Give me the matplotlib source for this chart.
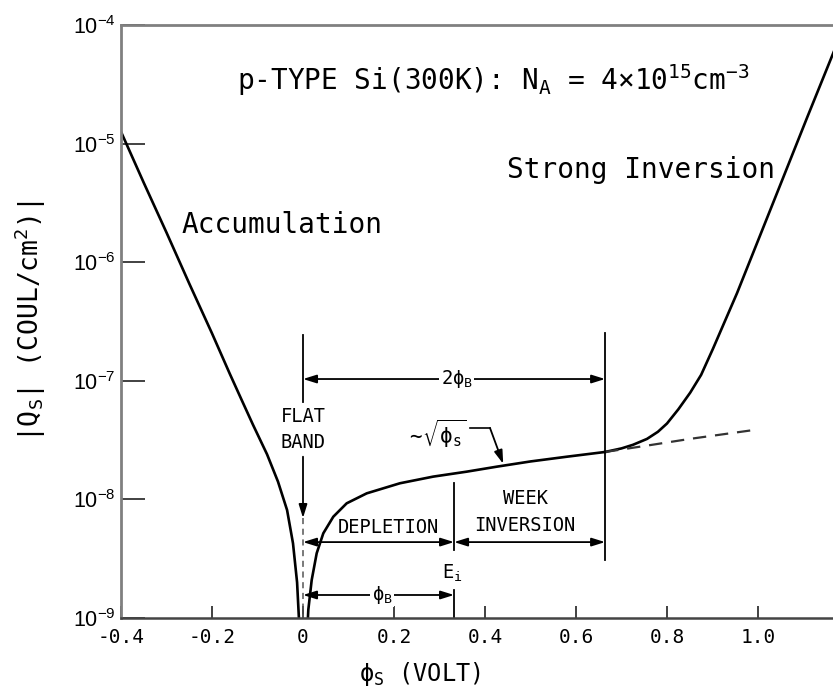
import matplotlib
matplotlib.use("Agg")
import matplotlib.pyplot as plt
import numpy as np

plt.rcParams['font.family'] = ['DejaVu Sans Mono', 'DejaVu Sans']
plt.rcParams['mathtext.fontset'] = 'dejavusans'
plt.rcParams['mathtext.default'] = 'regular'

# values: surface potential (V) vs log10 |Qs| (C/cm^2)
acc_phi = [-0.40, -0.35, -0.30, -0.25, -0.20, -0.161, -0.135, -0.110, -0.079,
           -0.055, -0.035, -0.022, -0.013, -0.009, -0.007]
acc_logq = [-4.90, -5.33, -5.75, -6.18, -6.60, -6.94, -7.16, -7.37, -7.62,
            -7.85, -8.09, -8.37, -8.70, -9.00, -9.20]

dep_phi = [0.0095, 0.0117, 0.0191, 0.0301, 0.0446, 0.0666, 0.096, 0.140, 0.213,
           0.286, 0.360, 0.426, 0.500, 0.580, 0.664]
dep_logq = [-9.10, -8.93, -8.68, -8.454, -8.286, -8.146, -8.033, -7.949, -7.864,
            -7.808, -7.766, -7.724, -7.68, -7.64, -7.60]

inv_phi = [0.664, 0.700, 0.725, 0.756, 0.780, 0.800, 0.825, 0.851, 0.875, 0.901,
           0.954, 1.004, 1.055, 1.108, 1.165, 1.200]
inv_logq = [-7.60, -7.57, -7.54, -7.49, -7.43, -7.36, -7.24, -7.10, -6.95, -6.73,
            -6.26, -5.78, -5.29, -4.78, -4.24, -3.91]

# depletion-only continuation (dashed)
dash_phi = [0.664, 0.750, 0.850, 1.000]
dash_logq = [-7.60, -7.55, -7.49, -7.41]

x_ticks = [-0.4, -0.2, 0.0, 0.2, 0.4, 0.6, 0.8, 1.0]
x_labels = ['-0.4', '-0.2', '0', '0.2', '0.4', '0.6', '0.8', '1.0']
y_exps = [-9, -8, -7, -6, -5, -4]

phi_fb = 0.0      # flat band
phi_b = 0.332     # Ei
two_phi_b = 0.664


def Q(lg):
    return 10.0 ** np.asarray(lg)


fig = plt.figure(figsize=(8.33, 6.95), dpi=100)
ax = fig.add_axes([121 / 833, 77 / 695, 728 / 833, 593 / 695])
ax.set_yscale('log')
ax.set_xlim(-0.4, 1.2)
ax.set_ylim(1e-9, 1e-4)

# curves
ax.plot(acc_phi, Q(acc_logq), color='k', lw=1.9)
ax.plot(dep_phi, Q(dep_logq), color='k', lw=1.9)
ax.plot(inv_phi, Q(inv_logq), color='k', lw=1.9)
ax.plot(dash_phi, Q(dash_logq), color='#333333', lw=1.6, ls=(0, (6, 4)))

# axes styling
for s in ['left', 'top']:
    ax.spines[s].set_color('#808080')
    ax.spines[s].set_linewidth(2.0)
ax.spines['bottom'].set_color('#444444')
ax.spines['bottom'].set_linewidth(1.8)
ax.spines['right'].set_visible(False)

ax.set_xticks(x_ticks)
ax.set_xticklabels(x_labels)
ax.set_yticks([10.0 ** e for e in y_exps])
ax.set_yticklabels(['$10^{%d}$' % e for e in y_exps], family='Liberation Sans')
ax.minorticks_off()
ax.tick_params(axis='y', direction='in', length=17, width=1.3, pad=4,
               labelsize=15.5, color='#333333')
ax.tick_params(axis='x', direction='in', length=9, width=1.3, pad=7,
               labelsize=14, color='#333333')

ax.set_ylabel('|Q$_S$| (COUL/cm$^2$)|', fontsize=19)
ax.yaxis.set_label_coords(-0.10, 0.5)
ax.set_xlabel('ϕ$_S$ (VOLT)', fontsize=17, va='top')
ax.xaxis.set_label_coords(0.41, -0.07)

# texts
ax.text(-0.145, Q(-4.464), 'p-TYPE Si(300K): N$_A$ = 4×10$^{15}$cm$^{-3}$',
        ha='left', va='center', fontsize=20)
ax.text(1.037, Q(-5.223), 'Strong Inversion', ha='right', va='center', fontsize=20)
ax.text(-0.266, Q(-5.686), 'Accumulation', ha='left', va='center', fontsize=20)

small = 13.5
# guide lines
lkw = dict(color='k', lw=1.3)
ax.plot([phi_fb, phi_fb], [Q(-6.61), Q(-7.18)], **lkw)
ax.plot([two_phi_b, two_phi_b], [Q(-6.60), Q(-8.51)], **lkw)
ax.plot([phi_b, phi_b], [Q(-7.86), Q(-8.43)], **lkw)
ax.plot([phi_b, phi_b], [Q(-8.76), Q(-9.0)], **lkw)
ax.plot([phi_fb, phi_fb], [Q(-8.157), Q(-9.0)], color='#555555', lw=1.1, ls=(0, (4, 3)))

ahead = dict(color='k', lw=1.3, shrinkA=0, shrinkB=0)


def darrow(x0, x1, lg):
    ax.annotate('', xy=(x1, Q(lg)), xytext=(x0, Q(lg)),
                arrowprops=dict(arrowstyle='<|-|>,head_length=0.8,head_width=0.25', **ahead))


darrow(phi_fb, two_phi_b, -6.985)
darrow(phi_fb, phi_b, -8.36)
darrow(phi_b, two_phi_b, -8.36)
darrow(phi_fb, phi_b, -8.806)

ax.text(0.338, Q(-6.985), '2ϕ$_B$', ha='center', va='center', fontsize=small,
        bbox=dict(fc='white', ec='none', pad=1))
ax.text(0.174, Q(-8.806), 'ϕ$_B$', ha='center', va='center', fontsize=small,
        bbox=dict(fc='white', ec='none', pad=1))
ax.text(phi_fb, Q(-7.41), 'FLAT\nBAND', ha='center', va='center', fontsize=small,
        linespacing=1.5)
ax.text(0.187, Q(-8.233), 'DEPLETION', ha='center', va='center', fontsize=small)
ax.text(0.488, Q(-8.106), 'WEEK\nINVERSION', ha='center', va='center',
        fontsize=small, linespacing=1.5)
ax.text(0.328, Q(-8.62), 'E$_i$', ha='center', va='center', fontsize=small)

# flat band arrow
ax.annotate('', xy=(phi_fb, Q(-8.157)), xytext=(phi_fb, Q(-7.64)),
            arrowprops=dict(arrowstyle='-|>,head_length=0.8,head_width=0.25', **ahead))

# sqrt(phi_s) leader
ax.text(0.292, Q(-7.449), r'$\sim\!\sqrt{\phi_s}$', ha='center', va='center',
        fontsize=15)
ax.plot([0.367, 0.411], [Q(-7.398), Q(-7.398)], color='k', lw=1.2)
ax.annotate('', xy=(0.44, Q(-7.70)), xytext=(0.411, Q(-7.398)),
            arrowprops=dict(arrowstyle='-|>,head_length=0.8,head_width=0.25', **ahead))

fig.savefig('out.png', dpi=100)
